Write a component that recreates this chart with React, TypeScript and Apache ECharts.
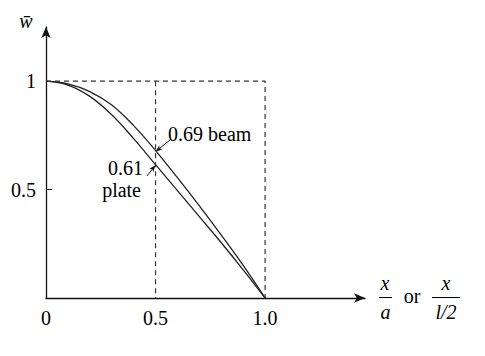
import React, { useEffect, useRef } from "react";
import * as echarts from "echarts";

const xs = [0, 0.1, 0.2, 0.3, 0.4, 0.5, 0.6, 0.7, 0.8, 0.9, 1.0];
const beam = [1, 0.988, 0.952, 0.89, 0.795, 0.68, 0.555, 0.425, 0.29, 0.15, 0];
const plate = [1, 0.982, 0.93, 0.845, 0.735, 0.615, 0.495, 0.375, 0.255, 0.13, 0];
const boxLine: [number, number][] = [[0, 1], [1, 1], [1, 0]];
const midLine: [number, number][] = [[0.5, 1], [0.5, 0]];
const xTicks = [0, 0.5, 1];
const xTickLabels = ["0", "0.5", "1.0"];
const yTicks = [0.5, 1];
const yTickLabels = ["0.5", "1"];
const beamArrow: [number, number][] = [[0.566, 0.729], [0.5, 0.675]];
const plateArrow: [number, number][] = [[0.461, 0.563], [0.5, 0.613]];
const beamLabel = "0.69 beam";
const plateLabels = ["0.61", "plate"];

const FAM = "'Times New Roman', 'Liberation Serif', serif";
const FS = 20;

export default function App() {
  const ref = useRef<HTMLDivElement>(null);
  useEffect(() => {
    if (!ref.current) return;
    const chart = echarts.init(ref.current, undefined, { renderer: "svg" });
    const lineStyle = { color: "#222", width: 1.3 };
    const txt = (text: string, x: number, y: number, align: string, italic = false) => ({
      type: "text",
      x,
      y,
      style: {
        text,
        fontFamily: FAM,
        fontSize: FS,
        fontStyle: italic ? "italic" : "normal",
        fill: "#000",
        align,
        verticalAlign: "middle",
      },
    });
    chart.setOption({
      animation: false,
      grid: { left: 46, right: 120, top: 27, bottom: 58 },
      xAxis: {
        type: "value",
        min: 0,
        max: 1.456,
        interval: 0.5,
        splitLine: { show: false },
        axisLine: {
          lineStyle: { color: "#111", width: 1.3 },
          symbol: ["none", "arrow"],
          symbolSize: [7, 11],
        },
        axisTick: { show: false },
        axisLabel: {
          customValues: xTicks,
          formatter: (v: number) => xTickLabels[xTicks.indexOf(v)] ?? "",
          color: "#000",
          fontFamily: FAM,
          fontSize: FS,
          margin: 10,
        },
      },
      yAxis: {
        type: "value",
        min: 0,
        max: 1.25,
        interval: 0.5,
        splitLine: { show: false },
        axisLine: {
          lineStyle: { color: "#111", width: 1.3 },
          symbol: ["none", "arrow"],
          symbolSize: [7, 11],
        },
        axisTick: { show: true, customValues: [0.5], inside: true, length: 6, lineStyle: { color: "#111" } },
        axisLabel: {
          customValues: yTicks,
          formatter: (v: number) => yTickLabels[yTicks.indexOf(v)] ?? "",
          color: "#000",
          fontFamily: FAM,
          fontSize: FS,
          margin: 10,
        },
      },
      series: [
        { type: "line", data: xs.map((x, i) => [x, beam[i]]), smooth: 0.4, symbol: "none", lineStyle },
        { type: "line", data: xs.map((x, i) => [x, plate[i]]), smooth: 0.4, symbol: "none", lineStyle },
        { type: "line", data: boxLine, symbol: "none", lineStyle: { color: "#333", width: 1.2, type: [5, 4] } },
        { type: "line", data: midLine, symbol: "none", lineStyle: { color: "#333", width: 1.2, type: [5, 4] } },
      ],
    });
    const arrow = (pts: [number, number][]) => {
      const a = chart.convertToPixel({ gridIndex: 0 }, pts[0]) as number[];
      const b = chart.convertToPixel({ gridIndex: 0 }, pts[1]) as number[];
      const dx = b[0] - a[0];
      const dy = b[1] - a[1];
      const len = Math.hypot(dx, dy);
      const ux = dx / len;
      const uy = dy / len;
      const hl = 7;
      const hw = 2.6;
      const bx = b[0] - ux * hl;
      const by = b[1] - uy * hl;
      return [
        { type: "line", shape: { x1: a[0], y1: a[1], x2: bx + ux * 2, y2: by + uy * 2 }, style: { stroke: "#111", lineWidth: 1 } },
        {
          type: "polygon",
          shape: {
            points: [
              [b[0], b[1]],
              [bx - uy * hw, by + ux * hw],
              [bx + ux * 2, by + uy * 2],
              [bx + uy * hw, by - ux * hw],
            ],
          },
          style: { fill: "#111" },
        },
      ];
    };
    chart.setOption({
      graphic: [
        ...arrow(beamArrow),
        ...arrow(plateArrow),
        txt(beamLabel, 168, 134, "left"),
        txt(plateLabels[0], 143, 168, "right"),
        txt(plateLabels[1], 141, 190, "right"),
        txt("w\u0304", 26, 21, "center", true),
        txt("x", 385, 283, "center", true),
        { type: "line", shape: { x1: 379, y1: 297.5, x2: 392, y2: 297.5 }, style: { stroke: "#000", lineWidth: 1 } },
        txt("a", 385.5, 312, "center", true),
        txt("or", 412, 296, "center"),
        txt("x", 446, 283, "center", true),
        { type: "line", shape: { x1: 432, y1: 297.5, x2: 460, y2: 297.5 }, style: { stroke: "#000", lineWidth: 1 } },
        txt("l/2", 446, 312, "center", true),
      ],
    });
    return () => chart.dispose();
  }, []);
  return <div ref={ref} style={{ position: "fixed", left: 0, top: 0, width: 485, height: 356, background: "#fff" }} />;
}
